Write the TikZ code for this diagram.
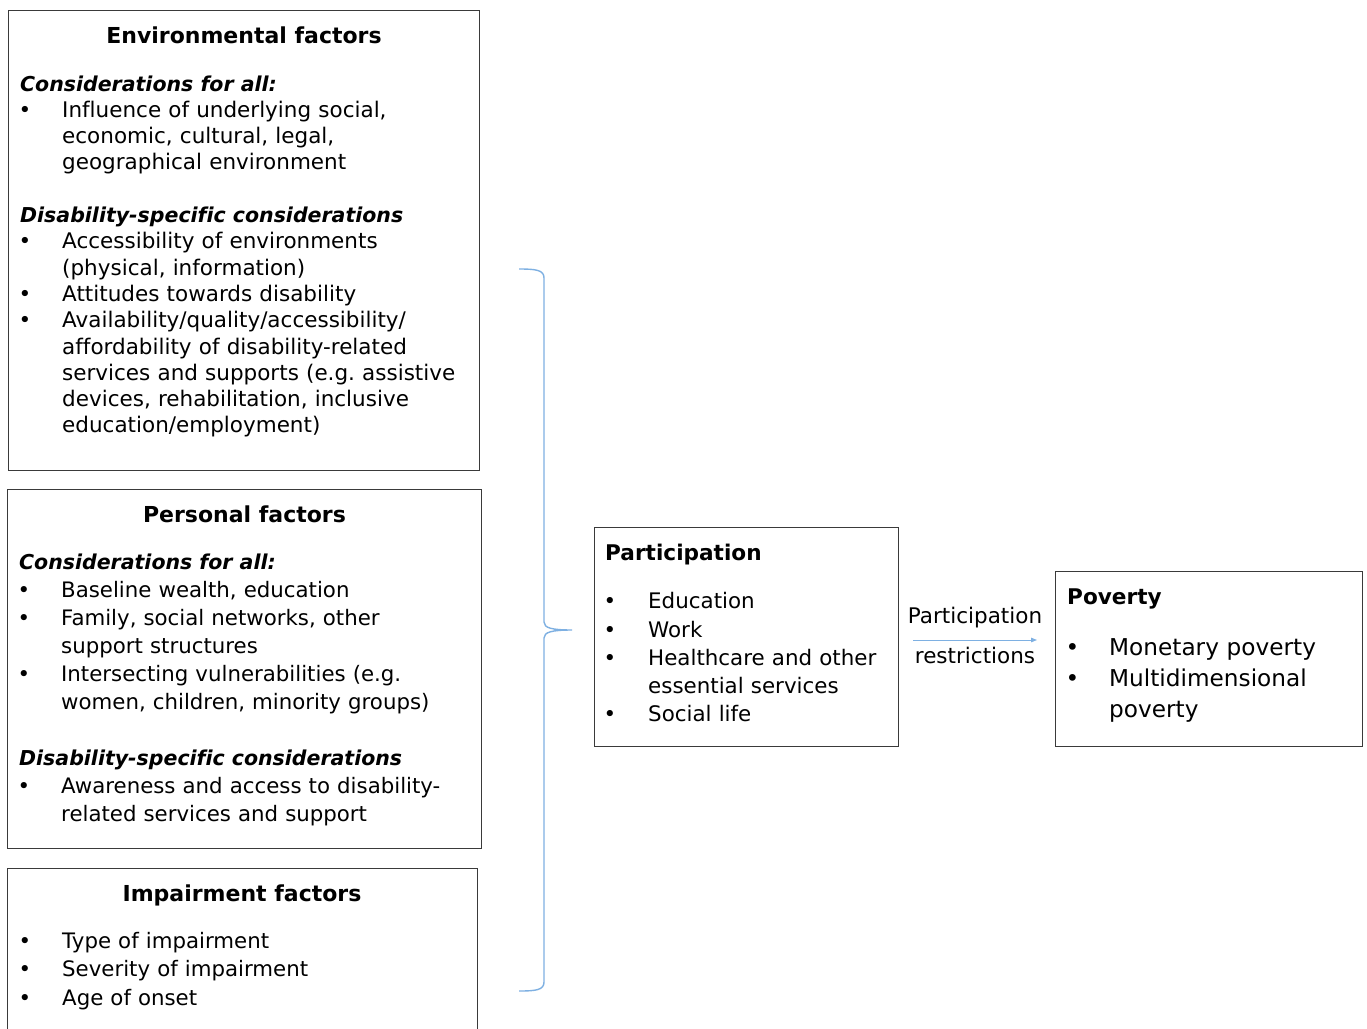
\documentclass[tikz,border=0pt]{standalone}
\usepackage{fontspec}
\setmainfont[Ligatures=NoCommon]{DejaVu Sans}
\usetikzlibrary{arrows.meta}
\definecolor{bracecol}{HTML}{7EB0E2}
\definecolor{boxcol}{HTML}{3A3A3A}
\newlength{\bulind}
\setlength{\bulind}{42pt}
\frenchspacing
\newcommand{\nl}{\hfil\break}
\newcommand{\bitem}[1]{\par\noindent\hangindent=\bulind\hangafter=1\makebox[\bulind][l]{\hspace{-1.5pt}•}#1\par}
\newcommand{\bhead}[1]{\par\noindent{\fontsize{20.5}{20}\selectfont\textbf{\textit{#1}}}\par}
\begin{document}
\begin{tikzpicture}[x=1pt,y=-1pt,
  box/.style={draw=boxcol, line width=1.1pt, anchor=north west, inner sep=0pt},
  ttl/.style={font=\bfseries\fontsize{22}{26}\selectfont, anchor=base, inner sep=0pt},
  ttlw/.style={font=\bfseries\fontsize{21.6}{26}\selectfont, anchor=base west, inner sep=0pt},
  body/.style={anchor=base west, inner sep=0pt, text width=480pt, align=left},
  lbl/.style={font=\fontsize{21.5}{24}\selectfont, inner sep=0pt, anchor=base},
  arr/.style={draw=bracecol, line width=1pt, -{Triangle[length=6pt,width=4.5pt]}},
  brc/.style={draw=bracecol, line width=1.4pt}]
\useasboundingbox (0,0) rectangle (1367,1028);
\fill[white] (0,0) rectangle (1367,1028);

% boxes
\node[box, minimum width=471pt, minimum height=460pt] (env) at (8,10) {};
\node[box, minimum width=474pt, minimum height=359pt] (pers) at (7,489) {};
\node[box, minimum width=470pt, minimum height=220pt] (imp) at (7,868) {};
\node[box, minimum width=304pt, minimum height=219pt] (part) at (594,527) {};
\node[box, minimum width=307pt, minimum height=175pt] (pov) at (1055,571) {};

% titles
\node[ttl] (envt) at (244,43) {Environmental factors};
\node[ttl] (perst) at (244.5,522) {Personal factors};
\node[ttl] (impt) at (242,901) {Impairment factors};
\node[ttlw] (partt) at (605,560) {Participation};
\node[ttlw] (povt) at (1067,604) {Poverty};

% bodies (node base = one blank line above first baseline)
\node[body, font=\fontsize{21.5}{26.3}\selectfont] (envb) at (20,64.7) {%
\bhead{Considerations for all:}
\bitem{Influence of underlying social,\nl economic, cultural, legal,\nl geographical environment}
\vskip\baselineskip
\bhead{Disability-specific considerations}
\bitem{Accessibility of environments\nl (physical, information)}
\bitem{Attitudes towards disability}
\bitem{Availability/quality/accessibility/\nl affordability of disability-related\nl services and supports (e.g. assistive\nl devices, rehabilitation, inclusive\nl education/employment)}};

\node[body, font=\fontsize{21.3}{28}\selectfont] (persb) at (19,541) {%
\bhead{Considerations for all:}
\bitem{Baseline wealth, education}
\bitem{Family, social networks, other\nl support structures}
\bitem{Intersecting vulnerabilities (e.g.\nl women, children, minority groups)}
\vskip\baselineskip
\bhead{Disability-specific considerations}
\bitem{Awareness and access to disability-\nl related services and support}};

\node[body, font=\fontsize{21.3}{28.5}\selectfont] (impb) at (20,919.5) {%
\bitem{Type of impairment}
\bitem{Severity of impairment}
\bitem{Age of onset}};

\node[body, text width=300pt, font=\fontsize{21.4}{28.25}\selectfont] (partb) at (605,580.5) {%
\setlength{\bulind}{43pt}%
\bitem{Education}
\bitem{Work}
\bitem{Healthcare and other\nl essential services}
\bitem{Social life}};

\node[body, text width=300pt, font=\fontsize{23.2}{31}\selectfont] (povb) at (1067,624) {%
\setlength{\bulind}{42pt}%
\bitem{Monetary poverty}
\bitem{Multidimensional\nl poverty}};

% arrow and labels
\coordinate (a1) at (913,640);
\coordinate (a2) at (1037,640);
\draw[arr] (a1) -- (a2);
\node[lbl] (l1) at (975,623) {Participation};
\node[lbl] (l2) at (975,663) {restrictions};

% brace
\coordinate (bt) at (519,269);
\coordinate (bp) at (572,630);
\coordinate (bb) at (519,991);
\draw[brc] (bt) .. controls (536,269) and (544,270) .. (544,278)
  -- (544,622) .. controls (544,628) and (552,630) .. (bp)
  .. controls (552,630) and (544,632) .. (544,638)
  -- (544,982) .. controls (544,990) and (536,991) .. (bb);
\end{tikzpicture}
\end{document}
